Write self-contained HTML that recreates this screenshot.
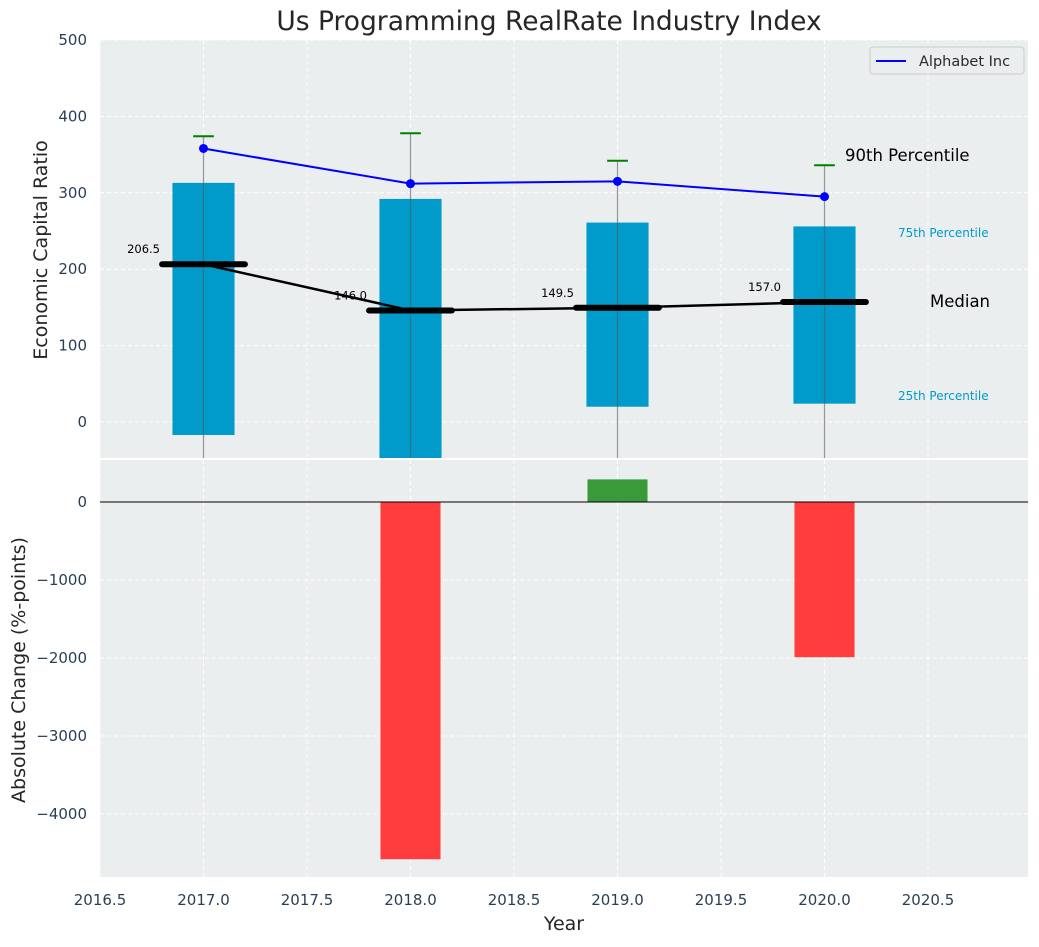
<!DOCTYPE html>
<html><head><meta charset="utf-8"><style>
body{margin:0;background:#fff;font-family:"Liberation Sans","DejaVu Sans",sans-serif}
svg text{font-family:"DejaVu Sans","Liberation Sans",sans-serif}
</style></head><body>
<svg id="c" width="1039" height="942" xmlns="http://www.w3.org/2000/svg"></svg>
<script>
const years=[2017,2018,2019,2020];
const p25=[-17,-60,20,24];
const p75=[313,292,261,256];
const p90=[374,378,342,336];
const medians=[206.5,146.0,149.5,157.0];
const alphabet=[358,312,315,295];
const changeYears=[2018,2019,2020];
const changes=[-4580,290,-1990];
const xTicks=[2016.5,2017.0,2017.5,2018.0,2018.5,2019.0,2019.5,2020.0,2020.5];
const topTicks=[0,100,200,300,400,500];
const botTicks=[0,-1000,-2000,-3000,-4000];

const svg=document.getElementById('c');
const NS='http://www.w3.org/2000/svg';
function el(t,a,txt){const e=document.createElementNS(NS,t);for(const k in a)e.setAttribute(k,a[k]);if(txt!==undefined)e.textContent=txt;svg.appendChild(e);return e;}
const X=v=>100+(v-2016.5)*207;
const L=100,R=1028,T1=40,B1=458,T2=460,B2=877;
const Y1=v=>422-v*0.764;
const Y2=v=>502-v*0.078;

let e;
e=el('rect',{x:L,y:T1,width:R-L,height:B1-T1,fill:'#eaeeee'});

e=el('rect',{x:L,y:T2,width:R-L,height:B2-T2,fill:'#eaeeee'});


xTicks.forEach(t=>{[[T1,B1],[T2,B2]].forEach(([a,b])=>{
 e=el('line',{x1:X(t),x2:X(t),y1:a,y2:b,stroke:'#fff','stroke-dasharray':'4,3','stroke-width':1});
 });
 e=el('text',{x:X(t),y:905,'text-anchor':'middle','font-size':15,fill:'#2a3f55'},t.toFixed(1));
 
});
topTicks.forEach(t=>{
 e=el('line',{x1:L,x2:R,y1:Y1(t),y2:Y1(t),stroke:'#fff','stroke-dasharray':'4,3'});
 
 e=el('text',{x:87,y:Y1(t)+5,'text-anchor':'end','font-size':15,fill:'#2a3f55'},t);
 
});
botTicks.forEach(t=>{
 e=el('line',{x1:L,x2:R,y1:Y2(t),y2:Y2(t),stroke:'#fff','stroke-dasharray':'4,3'});
 
 e=el('text',{x:87,y:Y2(t)+5,'text-anchor':'end','font-size':15,fill:'#2a3f55'},t===0?'0':'\u2212'+Math.abs(t));
 
});

const cp=el('clipPath',{id:'cp1'});svg.removeChild(cp);
const defs=el('defs',{});defs.appendChild(cp);
const cr=document.createElementNS(NS,'rect');cr.setAttribute('x',L);cr.setAttribute('y',T1);cr.setAttribute('width',R-L);cr.setAttribute('height',B1-T1);cp.appendChild(cr);
const g=el('g',{'clip-path':'url(#cp1)'});
function gel(t,a,txt){const x=el(t,a,txt);g.appendChild(x);return x;}

years.forEach((y,i)=>{
 const lo=Math.max(p25[i],-60);
 e=gel('rect',{x:X(y-0.15),y:Y1(p75[i]),width:0.3*207,height:Y1(lo)-Y1(p75[i]),fill:'#009bcb'});
 
 e=gel('line',{x1:X(y),x2:X(y),y1:Y1(p90[i]),y2:B1,stroke:'#555','stroke-opacity':0.6,'stroke-width':1.2});
 
 e=gel('line',{x1:X(y-0.05),x2:X(y+0.05),y1:Y1(p90[i]),y2:Y1(p90[i]),stroke:'green','stroke-width':2});
 
});
e=gel('polyline',{points:years.map((y,i)=>X(y)+','+Y1(medians[i])).join(' '),fill:'none',stroke:'#000','stroke-width':2.5});

years.forEach((y,i)=>{
 e=gel('line',{x1:X(y-0.2),x2:X(y+0.2),y1:Y1(medians[i]),y2:Y1(medians[i]),stroke:'#000','stroke-width':6,'stroke-linecap':'round'});
 
 e=gel('text',{x:X(y-0.21),y:Y1(medians[i])-11,'text-anchor':'end','font-size':11.5,fill:'#000'},medians[i].toFixed(1));
 
});
e=gel('polyline',{points:years.map((y,i)=>X(y)+','+Y1(alphabet[i])).join(' '),fill:'none',stroke:'#0000ff','stroke-width':2});

years.forEach((y,i)=>{
 e=gel('circle',{cx:X(y),cy:Y1(alphabet[i]),r:4.5,fill:'#0000ff'});
 
});
svg.appendChild(g);

e=el('text',{x:845,y:161,'font-size':16.5,fill:'#000'},'90th Percentile');

e=el('text',{x:898,y:237,'font-size':12,fill:'#009bcb'},'75th Percentile');

e=el('text',{x:930,y:307,'font-size':16.5,fill:'#000'},'Median');

e=el('text',{x:898,y:400,'font-size':12,fill:'#009bcb'},'25th Percentile');


e=el('rect',{x:870,y:47,width:154,height:27,fill:'#eaeeee',stroke:'#ccc',rx:3});

e=el('line',{x1:876,x2:906,y1:61,y2:61,stroke:'#0000ff','stroke-width':2});

e=el('text',{x:919,y:66,'font-size':14.5,fill:'#2a2a2a'},'Alphabet Inc');


changeYears.forEach((y,i)=>{
 const v=changes[i];
 e=el('rect',{x:X(y-0.145),y:Math.min(Y2(0),Y2(v)),width:0.29*207,height:Math.abs(Y2(v)-Y2(0)),fill:v<0?'#ff3d3d':'#3a9a3a'});
 
});
e=el('line',{x1:L,x2:R,y1:Y2(0),y2:Y2(0),stroke:'#000','stroke-width':1});


e=el('text',{x:549,y:30,'text-anchor':'middle','font-size':26.5,fill:'#262626'},'Us Programming RealRate Industry Index');

e=el('text',{x:564,y:930,'text-anchor':'middle','font-size':19,fill:'#262626'},'Year');

e=el('text',{x:0,y:0,'text-anchor':'middle','font-size':19,fill:'#262626',transform:'translate(47,250) rotate(-90)'},'Economic Capital Ratio');

e=el('text',{x:0,y:0,'text-anchor':'middle','font-size':19,fill:'#262626',transform:'translate(25,670) rotate(-90)'},'Absolute Change (%-points)');

</script>
</body></html>
